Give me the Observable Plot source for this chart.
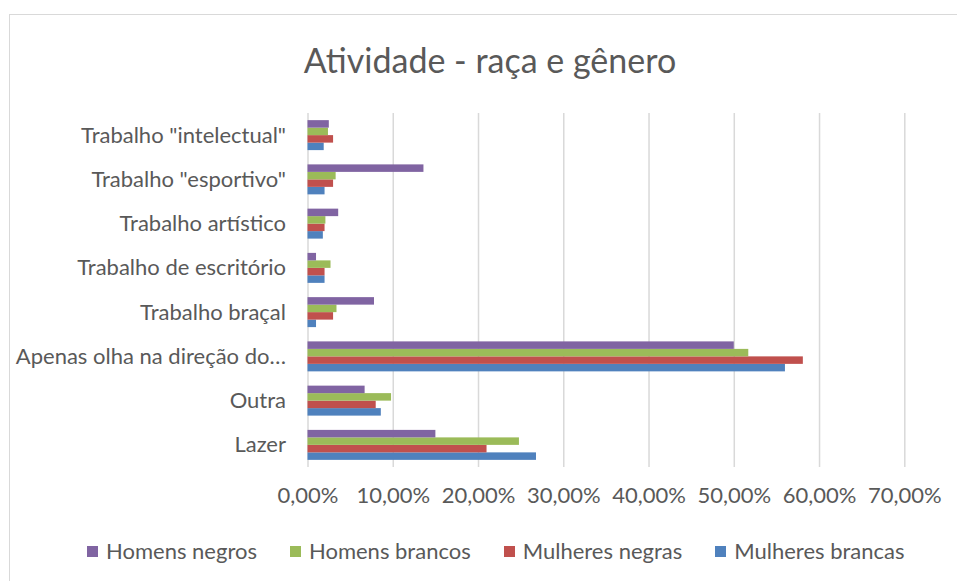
<!DOCTYPE html>
<html><head><meta charset="utf-8">
<script src="https://cdn.jsdelivr.net/npm/d3@7"></script>
<script src="https://cdn.jsdelivr.net/npm/@observablehq/plot@0.6"></script>
<style>
body{margin:0;background:#fff;font-family:Lato,sans-serif;color:#595959;overflow:hidden}
#wrap{position:relative;width:957px;height:581px;overflow:hidden}
#frame{position:absolute;left:9px;top:14px;width:1000px;height:600px;border-left:1px solid #d9d9d9;border-top:1px solid #d9d9d9}
#title{position:absolute;left:0;width:980px;top:43px;text-align:center;font-size:34px;line-height:34px;white-space:nowrap}
#chart{position:absolute;left:0;top:0}
#legend{position:absolute;left:87px;top:540px;display:flex;font-size:22px;line-height:22px;align-items:center;white-space:nowrap}
.item{display:flex;align-items:center;margin-right:33px}
.sw{width:11px;height:11px;margin-right:8px}
</style></head><body>
<div id="wrap">
<div id="frame"></div>
<div id="chart"></div>
<div id="title">Atividade - raça e gênero</div>
<div id="legend"></div>
</div>
<script>
// Categories, bottom to top (Excel order)
const categories = ["Lazer", "Outra", "Apenas olha na direção do…", "Trabalho braçal", "Trabalho de escritório", "Trabalho artístico", "Trabalho \"esportivo\"", "Trabalho \"intelectual\""];
// Series values (%), same order as categories
const mulheresBrancas = [26.8, 8.6, 56.0, 1.0, 2.0, 1.8, 2.0, 1.9];
const mulheresNegras  = [21.0, 8.0, 58.1, 3.0, 2.0, 2.0, 3.0, 3.0];
const homensBrancos   = [24.8, 9.8, 51.7, 3.4, 2.7, 2.1, 3.3, 2.4];
const homensNegros    = [15.0, 6.7, 50.0, 7.8, 1.0, 3.6, 13.6, 2.5];
const seriesNames = ["Mulheres brancas", "Mulheres negras", "Homens brancos", "Homens negros"];
const seriesColors = ["#4F81BD", "#C0504D", "#9BBB59", "#8064A2"];
const xTicks = [0, 10, 20, 30, 40, 50, 60, 70];

const seriesValues = [mulheresBrancas, mulheresNegras, homensBrancos, homensNegros];
const groupHalf = 0.3387, barH = groupHalf * 2 / 4;
const rows = [];
seriesValues.forEach((vals, k) => {
  vals.forEach((v, i) => {
    const y1 = i - groupHalf + k * barH;
    rows.push({cat: categories[i], series: seriesNames[k], value: v, y1, y2: y1 + barH});
  });
});

const chart = Plot.plot({
  width: 957,
  height: 520,
  marginTop: 113,
  marginBottom: 53,
  marginLeft: 307.5,
  marginRight: 52.7,
  style: {fontFamily: "Lato, sans-serif", fontSize: "22px", color: "#595959", background: "transparent", overflow: "visible"},
  x: {domain: [0, 70], ticks: xTicks, tickFormat: d => d.toFixed(2).replace(".", ",") + "%", tickSize: 0, tickPadding: 20, label: null},
  y: {domain: [-0.5, 7.5], ticks: d3.range(categories.length), tickFormat: i => categories[i], tickSize: 0, tickPadding: 22, label: null},
  color: {domain: seriesNames, range: seriesColors},
  marks: [
    Plot.ruleX(xTicks, {stroke: "#d9d9d9", strokeWidth: 1.5}),
    Plot.rectX(rows, {x1: 0, x2: "value", y1: "y1", y2: "y2", fill: "series"})
  ]
});
document.getElementById("chart").appendChild(chart);

const legend = document.getElementById("legend");
[3, 2, 1, 0].forEach(k => {
  const it = document.createElement("div");
  it.className = "item";
  const sw = document.createElement("div");
  sw.className = "sw";
  sw.style.background = seriesColors[k];
  const t = document.createElement("span");
  t.textContent = seriesNames[k];
  it.appendChild(sw); it.appendChild(t);
  legend.appendChild(it);
});
</script>
</body></html>
